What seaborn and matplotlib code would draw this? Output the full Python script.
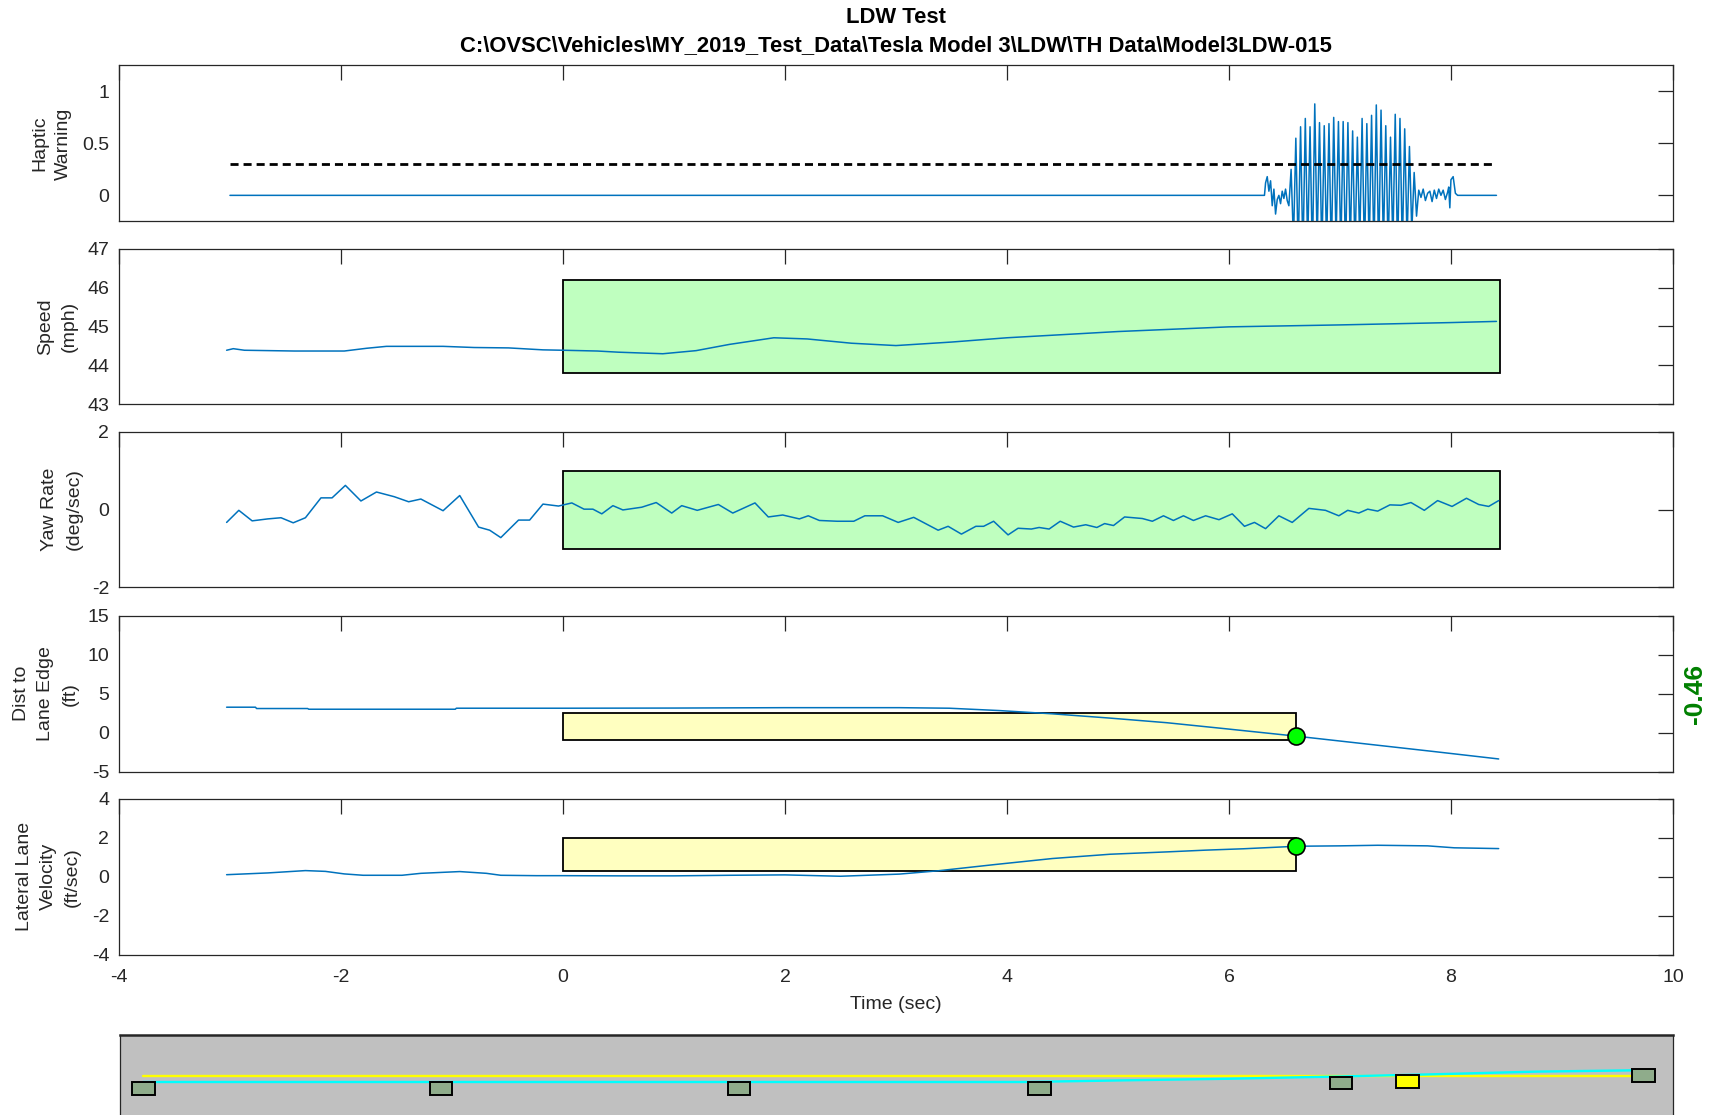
import numpy as np
import pandas as pd
import matplotlib
matplotlib.use('Agg')
import matplotlib.pyplot as plt
from matplotlib.patches import Rectangle
import seaborn as sns

# ---- data (time in sec) ----
haptic_pre_t = [-3.0, 6.30, 6.32, 6.33, 6.345, 6.36, 6.375, 6.39, 6.405, 6.42, 6.435,
                6.45, 6.465, 6.48, 6.495, 6.51, 6.525, 6.54]
haptic_pre_v = [0.0, 0.0, 0.0, 0.12, 0.18, 0.04, 0.14, -0.10, 0.06, -0.18, -0.04,
                0.0, -0.08, 0.04, -0.03, 0.06, -0.05, -0.10]
burst_peaks = [0.25, 0.55, 0.66, 0.74, 0.66, 0.88, 0.70, 0.67, 0.69, 0.75, 0.71, 0.71,
               0.70, 0.62, 0.56, 0.74, 0.69, 0.77, 0.87, 0.82, 0.67, 0.56, 0.78, 0.74,
               0.64, 0.47, 0.22]
burst_troughs = [-0.45, -0.55, -0.60, -0.50, -0.62, -0.48, -0.58, -0.52, -0.60, -0.45,
                 -0.55, -0.62, -0.50, -0.57, -0.47, -0.60, -0.53, -0.58, -0.62, -0.50,
                 -0.55, -0.48, -0.60, -0.52, -0.45, -0.35, -0.20]
burst_start, burst_end = 6.56, 7.69
haptic_post_t = [7.71, 7.73, 7.75, 7.77, 7.79, 7.81, 7.83, 7.85, 7.87, 7.89, 7.91, 7.93,
                 7.95, 7.97, 7.98, 7.99, 8.00, 8.02, 8.04, 8.06, 8.41]
haptic_post_v = [0.05, -0.02, 0.06, -0.05, 0.02, 0.04, -0.06, 0.05, -0.03, 0.06, 0.0, 0.05,
                 -0.04, 0.03, 0.08, -0.12, 0.15, 0.18, 0.02, 0.0, 0.0]
haptic_threshold = 0.3
threshold_span = [-3.0, 8.41]

speed_t = [-3.03, -2.97, -2.87, -2.42, -1.97, -1.77, -1.59, -1.08, -0.80, -0.49, -0.18,
           0.0, 0.31, 0.5, 0.9, 1.2, 1.5, 1.9, 2.2, 2.6, 3.0, 3.5, 4.0, 5.0, 6.0, 7.0, 8.0, 8.41]
speed_v = [44.39, 44.43, 44.39, 44.37, 44.37, 44.44, 44.49, 44.49, 44.46, 44.45, 44.40,
           44.39, 44.37, 44.34, 44.30, 44.38, 44.54, 44.71, 44.68, 44.57, 44.51, 44.60,
           44.71, 44.87, 44.99, 45.04, 45.10, 45.13]

yaw_t = [-3.03, -2.92, -2.8, -2.66, -2.54, -2.43, -2.32, -2.18, -2.08, -1.96,
         -1.82, -1.68, -1.52, -1.39, -1.28, -1.08, -0.93, -0.76, -0.66, -0.56,
         -0.40, -0.30, -0.18, -0.04, 0.08, 0.19, 0.27, 0.35, 0.45, 0.54,
         0.71, 0.84, 0.98, 1.07, 1.21, 1.40, 1.53, 1.73, 1.85, 1.98,
         2.13, 2.21, 2.31, 2.47, 2.62, 2.72, 2.88, 3.02, 3.16, 3.38,
         3.47, 3.59, 3.72, 3.79, 3.88, 4.01, 4.10, 4.22, 4.29, 4.38,
         4.48, 4.60, 4.71, 4.81, 4.88, 4.96, 5.06, 5.22, 5.31, 5.41,
         5.50, 5.59, 5.68, 5.79, 5.91, 6.03, 6.14, 6.23, 6.33, 6.45,
         6.57, 6.72, 6.87, 6.99, 7.07, 7.17, 7.25, 7.34, 7.45, 7.55,
         7.64, 7.76, 7.88, 8.01, 8.14, 8.25, 8.34, 8.43]
yaw_v = [-0.33, -0.02, -0.29, -0.24, -0.21, -0.34, -0.21, 0.30, 0.30, 0.62,
         0.22, 0.45, 0.33, 0.20, 0.27, -0.03, 0.36, -0.45, -0.53, -0.72,
         -0.27, -0.27, 0.14, 0.09, 0.17, 0.01, 0.01, -0.11, 0.10, -0.01,
         0.06, 0.18, -0.09, 0.10, -0.02, 0.13, -0.09, 0.17, -0.19, -0.14,
         -0.24, -0.16, -0.28, -0.30, -0.30, -0.16, -0.16, -0.33, -0.20, -0.53,
         -0.43, -0.63, -0.43, -0.43, -0.30, -0.65, -0.48, -0.50, -0.46, -0.50,
         -0.30, -0.45, -0.39, -0.46, -0.36, -0.41, -0.19, -0.23, -0.30, -0.16,
         -0.28, -0.16, -0.28, -0.16, -0.26, -0.11, -0.43, -0.33, -0.49, -0.16,
         -0.33, 0.03, -0.02, -0.16, -0.02, -0.09, 0.01, -0.04, 0.12, 0.11,
         0.18, -0.02, 0.23, 0.08, 0.29, 0.13, 0.08, 0.23]

dist_t = [-3.03, -2.77, -2.76, -2.30, -2.29, -0.97, -0.96, 0.0, 1.0, 2.0, 3.03, 3.48,
          3.93, 4.41, 4.93, 5.44, 5.96, 6.61, 7.17, 7.86, 8.43]
dist_v = [3.26, 3.26, 3.09, 3.09, 3.0, 3.0, 3.13, 3.13, 3.15, 3.2, 3.2, 3.13,
          2.83, 2.41, 1.86, 1.27, 0.51, -0.46, -1.35, -2.45, -3.38]

lat_t = [-3.03, -2.66, -2.32, -2.14, -1.97, -1.80, -1.45, -1.28, -0.93, -0.69, -0.56,
         -0.24, 0.0, 0.5, 1.0, 1.5, 2.0, 2.5, 3.03, 3.38, 3.89, 4.41, 4.93, 5.44, 5.79,
         6.13, 6.61, 7.0, 7.34, 7.79, 8.03, 8.43]
lat_v = [0.11, 0.20, 0.32, 0.28, 0.15, 0.08, 0.08, 0.18, 0.27, 0.18, 0.08,
         0.06, 0.06, 0.05, 0.05, 0.08, 0.10, 0.03, 0.14, 0.31, 0.63, 0.94, 1.16, 1.28, 1.37,
         1.44, 1.57, 1.59, 1.62, 1.59, 1.49, 1.45]

# pass/fail windows: (t0, t1, low, high)
speed_window = (0.0, 8.44, 43.8, 46.2)
yaw_window = (0.0, 8.44, -1.0, 1.0)
dist_window = (0.0, 6.6, -1.0, 2.5)
lat_window = (0.0, 6.6, 0.3, 2.0)
warn_time = 6.6
warn_dist = -0.46
warn_lat = 1.6

# bird's eye strip (ft)
cone_x = [7.8, 107.8, 207.9, 308.9, 410.4, 512.1]
cone_y = [9.0, 9.0, 9.0, 9.0, 10.8, 13.2]
vehicle_x, vehicle_y = 432.8, 11.3
lane_x = [7.6, 514.0]
lane_y = [13.2, 13.2]
path_x = [7.6, 303.5, 338.1, 372.7, 407.0, 441.6, 476.3, 514.0]
path_y = [11.1, 11.1, 11.67, 12.2, 12.9, 13.7, 14.6, 15.1]

# ---- assemble haptic trace ----
burst_t = np.linspace(burst_start, burst_end, 2 * len(burst_peaks))
burst_v = np.ravel(np.column_stack([burst_peaks, burst_troughs]))
haptic = pd.DataFrame({
    't': np.concatenate([haptic_pre_t, burst_t, haptic_post_t]),
    'v': np.concatenate([haptic_pre_v, burst_v, haptic_post_v]),
})

sns.set_theme(style='white')
plt.rcParams['font.family'] = ['Liberation Sans', 'DejaVu Sans']
plt.rcParams['axes.unicode_minus'] = False
INK = '#262626'
BLUE = '#0072bd'
plt.rcParams['axes.edgecolor'] = INK
plt.rcParams['axes.linewidth'] = 0.9

fig = plt.figure(figsize=(17.09, 11.15), dpi=100)
left, width, height = 0.0696, 0.9093, 0.1398
bottoms = [0.8015, 0.6373, 0.4731, 0.308, 0.1437]
axes = [fig.add_axes([left, b, width, height]) for b in bottoms]
ax1, ax2, ax3, ax4, ax5 = axes


def trace(ax, t, v):
    sns.lineplot(x=t, y=v, ax=ax, color=BLUE, linewidth=1.1, estimator=None, sort=False)


def window(ax, w, face):
    ax.add_patch(Rectangle((w[0], w[2]), w[1] - w[0], w[3] - w[2], facecolor=face,
                           edgecolor='black', linewidth=1.3, zorder=1))


trace(ax1, haptic['t'], haptic['v'])
ax1.plot(threshold_span, [haptic_threshold] * 2, color='black', linewidth=2,
         dashes=(2.9, 1.8), zorder=3)

window(ax2, speed_window, '#bfffbf')
trace(ax2, speed_t, speed_v)
window(ax3, yaw_window, '#bfffbf')
trace(ax3, yaw_t, yaw_v)
window(ax4, dist_window, '#ffffc0')
trace(ax4, dist_t, dist_v)
window(ax5, lat_window, '#ffffc0')
trace(ax5, lat_t, lat_v)

sns.scatterplot(x=[warn_time], y=[warn_dist], ax=ax4, color='#00ff00', edgecolor='black',
                s=150, linewidth=1.2, zorder=5)
sns.scatterplot(x=[warn_time], y=[warn_lat], ax=ax5, color='#00ff00', edgecolor='black',
                s=150, linewidth=1.2, zorder=5)

limits = [(-0.25, 1.25), (43, 47), (-2, 2), (-5, 15), (-4, 4)]
yticks = [[0, 0.5, 1], [43, 44, 45, 46, 47], [-2, 0, 2], [-5, 0, 5, 10, 15],
          [-4, -2, 0, 2, 4]]
ylabels = ['Haptic\nWarning', 'Speed\n(mph)', 'Yaw Rate\n(deg/sec)',
           'Dist to\nLane Edge\n(ft)', 'Lateral Lane\nVelocity\n(ft/sec)']
label_x = [-0.0434, -0.0396, -0.0367, -0.047, -0.0454]

for ax, lim, yt, lab, lx in zip(axes, limits, yticks, ylabels, label_x):
    ax.set_xlim(-4, 10)
    ax.set_ylim(*lim)
    ax.set_xticks(range(-4, 11, 2))
    ax.set_yticks(yt)
    ax.set_yticklabels([f'{v:g}' for v in yt])
    ax.tick_params(direction='in', length=10.5, width=0.9, top=True, right=True,
                   colors=INK, labelsize=14, pad=7, labelbottom=(ax is ax5))
    ax.set_ylabel(lab, fontsize=14, color=INK, va='center', ha='center',
                  multialignment='center', linespacing=1.55)
    ax.yaxis.set_label_coords(lx, 0.5)
    ax.set_xlabel('')
    for s in ax.spines.values():
        s.set_visible(True)
        s.set_color(INK)

ax5.set_xlabel('Time (sec)', fontsize=14, color=INK, va='center')
ax5.xaxis.set_label_coords(0.5, -0.322)
ax5.tick_params(axis='x', pad=10)

ax4.text(1.0141, 0.5, f'{warn_dist:.2f}', transform=ax4.transAxes, rotation=90,
         ha='center', va='center', color='#008000', fontsize=19, fontweight='bold')

fig.text(0.5243, 0.9843, 'LDW Test', ha='center', va='center', fontsize=15.8,
         fontweight='bold', color='black')
fig.text(0.5243, 0.9587,
         'C:\\OVSC\\Vehicles\\MY_2019_Test_Data\\Tesla Model 3\\LDW\\TH Data\\Model3LDW-015',
         ha='center', va='center', fontsize=15.8, fontweight='bold', color='black')

# ---- bird's eye view strip ----
axs = fig.add_axes([0.0705, 0.0, 0.979 - 0.0705, 0.0717])
axs.set_facecolor('#c0c0c0')
axs.set_xlim(0, 522)
axs.set_ylim(0, 26.9)
axs.set_xticks([])
axs.set_yticks([])
axs.spines['bottom'].set_visible(False)
axs.spines['top'].set_linewidth(1.8)
for s in ['left', 'right', 'top']:
    axs.spines[s].set_visible(True)
    axs.spines[s].set_color(INK)
sns.lineplot(x=lane_x, y=lane_y, ax=axs, color='#ffff00', linewidth=1.7,
             estimator=None, sort=False)
sns.lineplot(x=path_x, y=path_y, ax=axs, color='#00ffff', linewidth=1.7,
             estimator=None, sort=False)
cw, ch = 7.6, 4.3
for cx, cy in zip(cone_x, cone_y):
    axs.add_patch(Rectangle((cx - cw / 2, cy - ch / 2), cw, ch, facecolor='#8fac8b',
                            edgecolor='black', linewidth=1.4, zorder=4))
axs.add_patch(Rectangle((vehicle_x - cw / 2, vehicle_y - ch / 2), cw, ch,
                        facecolor='#ffff00', edgecolor='black', linewidth=1.4, zorder=4))

fig.savefig('out.png', dpi=100)
